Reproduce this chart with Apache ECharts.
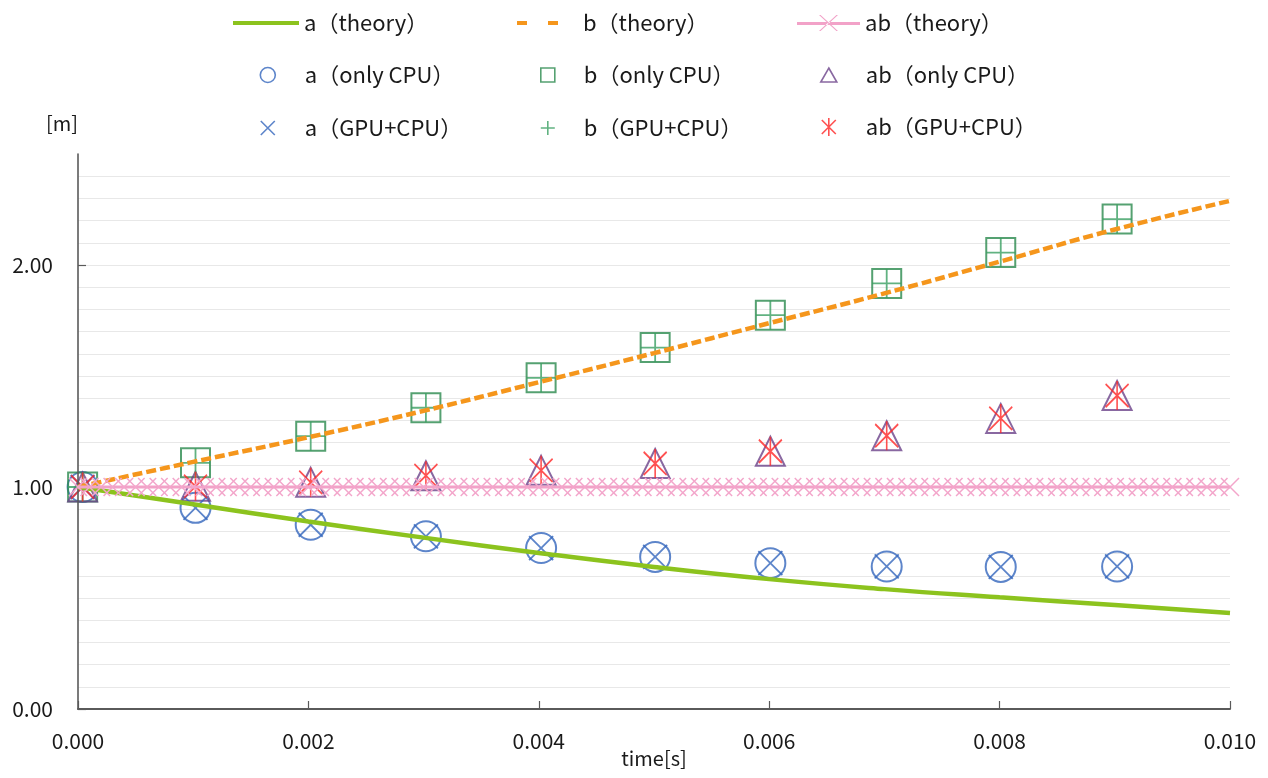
<!DOCTYPE html>
<html>
<head>
<meta charset="utf-8">
<title>a / b / ab</title>
<script src="https://cdn.jsdelivr.net/npm/echarts@6/dist/echarts.min.js"></script>
<style>
  html, body { margin: 0; padding: 0; background: #fff; }
  #chart { width: 1268px; height: 778px; }
</style>
</head>
<body>
<div id="chart"></div>
<script>
// 理論曲線 (0.001 s 刻み)
const theoryTime = [0, 0.001, 0.002, 0.003, 0.004, 0.005, 0.006, 0.007, 0.008, 0.009, 0.010];
const aTheory = [1.000, 0.922, 0.845, 0.772, 0.703, 0.640, 0.585, 0.540, 0.503, 0.468, 0.432];
const bTheory = [1.000, 1.113, 1.224, 1.343, 1.472, 1.603, 1.738, 1.872, 2.015, 2.160, 2.289];

// ab 理論値 (0.0001 s 刻み)
const abTheoryStep = 0.0001;
const abTheory = [
  1, 1, 1, 1, 1, 1, 1, 1, 1, 1,
  1, 1, 1, 1, 1, 1, 1, 1, 1, 1,
  1, 1, 1, 1, 1, 1, 1, 1, 1, 1,
  1, 1, 1, 1, 1, 1, 1, 1, 1, 1,
  1, 1, 1, 1, 1, 1, 1, 1, 1, 1,
  1, 1, 1, 1, 1, 1, 1, 1, 1, 1,
  1, 1, 1, 1, 1, 1, 1, 1, 1, 1,
  1, 1, 1, 1, 1, 1, 1, 1, 1, 1,
  1, 1, 1, 1, 1, 1, 1, 1, 1, 1,
  1, 1, 1, 1, 1, 1, 1, 1, 1, 1,
  1
];

// 計測点
const sampleTime = [0.00004, 0.00102, 0.00202, 0.00302, 0.00402, 0.00501, 0.00601, 0.00702, 0.00801, 0.00902];
const aCpu  = [1.000, 0.906, 0.830, 0.778, 0.725, 0.685, 0.657, 0.642, 0.640, 0.642];
const bCpu  = [1.000, 1.109, 1.229, 1.357, 1.492, 1.628, 1.774, 1.917, 2.056, 2.207];
const abCpu = [1.000, 1.003, 1.021, 1.051, 1.075, 1.106, 1.161, 1.231, 1.309, 1.412];
const aGpu  = [1.000, 0.906, 0.830, 0.778, 0.725, 0.685, 0.657, 0.642, 0.640, 0.642];
const bGpu  = [1.000, 1.109, 1.229, 1.357, 1.492, 1.628, 1.774, 1.917, 2.056, 2.207];
const abGpu = [1.000, 1.003, 1.021, 1.051, 1.075, 1.106, 1.161, 1.231, 1.309, 1.412];

const yLabelValues = [0, 1, 2];

const FONT = 'Noto Sans CJK JP';
const TEXT = '#1a1a1a';
const AXIS = '#5a5a5a';
const NONE = 'rgba(0,0,0,0)';

const C = {
  aLine: '#8cc31e', bLine: '#f5961c', abLine: '#f2a2c8', abMark: '#f3a6cb',
  blue: '#3566bd', green: '#2a8a4e', green2: '#3a9f62', purple: '#6b4289', red: '#ff2626'
};

// stroke-only marker shapes
const SYM_X = 'path://M0,0L10,10M10,0L0,10';
const SYM_PLUS = 'path://M5,0L5,10M0,5L10,5';
const SYM_STAR = 'path://M0,2L16,18M16,2L0,18M8,0L8,20';

const pairs = (xs, ys) => ys.map((v, i) => [xs[i], v]);

function scatter(name, ys, symbol, size, color, width) {
  return {
    name, type: 'scatter',
    data: pairs(sampleTime, ys),
    symbol, symbolSize: size,
    itemStyle: { color: NONE, borderColor: color, borderWidth: width },
    emphasis: { disabled: true }
  };
}

// one legend box per entry so the three columns line up like the original.
// left is the icon's left edge, textLeft where the label should start.
function legendItem(name, left, top, icon, w, h, itemStyle, textLeft) {
  return {
    data: [{ name, icon, itemStyle }],
    left, top, padding: 0,
    itemWidth: w, itemHeight: h,
    selectedMode: false,
    textStyle: {
      fontFamily: FONT, fontSize: 22, color: TEXT,
      padding: [0, 0, 0, Math.max(0, textLeft - (left + w + 5))]
    }
  };
}

const stroke = (color, width) => ({ color: NONE, borderColor: color, borderWidth: width });

const legends = [
  legendItem('a（theory）', 233, 12, 'rect', 66, 4, { color: C.aLine, borderWidth: 0 }, 303),
  legendItem('b（theory）', 517, 12, 'path://M0,0h10v4h-10z M31,0h10v4h-10z', 41, 4, { color: C.bLine, borderWidth: 0 }, 583),
  legendItem('ab（theory）', 797, 12,
    'path://M0,7.5H63V10.5H0Z M22,0.5L23.6,0.5L41,16.5L39.4,16.5Z M41,0.5L39.4,0.5L22,16.5L23.6,16.5Z',
    63, 16, { color: C.abLine, borderWidth: 0 }, 865),
  legendItem('a（only CPU）', 259.5, 64, 'circle', 15, 15, stroke(C.blue, 1.6), 304),
  legendItem('b（only CPU）', 540, 64, 'path://M0,0h14v14h-14z', 14, 14, stroke(C.green, 1.6), 583),
  legendItem('ab（only CPU）', 820, 64, 'path://M8,0L16,14L0,14Z', 16, 14, stroke(C.purple, 1.6), 865),
  legendItem('a（GPU+CPU）', 260, 117, SYM_X, 14, 14, stroke(C.blue, 1.6), 304),
  legendItem('b（GPU+CPU）', 540, 117, SYM_PLUS, 14, 14, stroke(C.green2, 1.6), 583),
  legendItem('ab（GPU+CPU）', 821, 116, 'path://M0,2L14,16M14,2L0,16M7,0L7,18', 14, 18, stroke(C.red, 1.6), 865)
];

const yBase = { type: 'value', min: 0, max: 2.5, interval: 0.1 };

const option = {
  backgroundColor: '#fff',
  animation: false,
  legend: legends,
  grid: { left: 78, right: 38, top: 154, bottom: 69, outerBoundsMode: 'none', containLabel: false },
  xAxis: {
    type: 'value',
    min: 0, max: 0.01, interval: 0.002,
    name: 'time[s]', nameLocation: 'middle', nameGap: 39, nameMoveOverlap: false,
    nameTextStyle: { fontFamily: FONT, fontSize: 20, color: TEXT },
    axisLine: { lineStyle: { color: AXIS, width: 2 } },
    axisTick: { inside: true, length: 8, lineStyle: { color: AXIS, width: 1.2 } },
    axisLabel: {
      fontFamily: FONT, fontSize: 21, color: TEXT, margin: 22,
      formatter: (v) => v.toFixed(3)
    },
    splitLine: { show: false }
  },
  yAxis: [
    {
      ...yBase,
      name: '[m]', nameLocation: 'end', nameGap: 21,
      nameTextStyle: { fontFamily: FONT, fontSize: 20, color: TEXT, align: 'right' },
      axisLine: { show: true, lineStyle: { color: AXIS, width: 1.6 } },
      axisTick: { show: true, inside: true, length: 8, customValues: yLabelValues, lineStyle: { color: AXIS, width: 1.2 } },
      axisLabel: {
        fontFamily: FONT, fontSize: 21, color: TEXT, margin: 25,
        customValues: yLabelValues,
        formatter: (v) => (Math.abs(v - Math.round(v)) < 1e-6 ? v.toFixed(2) : '')
      },
      splitLine: { show: false },
      z: 3
    },
    {
      // grid lines every 0.1
      ...yBase,
      axisLine: { show: false }, axisTick: { show: false }, axisLabel: { show: false },
      splitLine: { show: true, showMaxLine: false, lineStyle: { color: '#e8e8e8', width: 1.2 } },
      z: 0
    }
  ],
  series: [
    {
      name: 'a（theory）', type: 'line', smooth: true, showSymbol: false,
      data: pairs(theoryTime, aTheory),
      lineStyle: { color: C.aLine, width: 4.5 }, itemStyle: { color: C.aLine }
    },
    {
      name: 'b（theory）', type: 'line', smooth: true, showSymbol: false,
      data: pairs(theoryTime, bTheory),
      lineStyle: { color: C.bLine, width: 4.5, type: [10, 4] }, itemStyle: { color: C.bLine }
    },
    {
      name: 'ab（theory）', type: 'line', showSymbol: true,
      data: abTheory.map((v, i) => [i * abTheoryStep, v]),
      symbol: SYM_X, symbolSize: 18,
      lineStyle: { color: C.abLine, width: 3 },
      itemStyle: { color: NONE, borderColor: C.abMark, borderWidth: 1.5 },
      emphasis: { disabled: true }
    },
    scatter('a（only CPU）', aCpu, 'circle', 30, C.blue, 2),
    scatter('b（only CPU）', bCpu, 'rect', 29, C.green, 2),
    scatter('ab（only CPU）', abCpu, 'triangle', 29, C.purple, 2),
    scatter('a（GPU+CPU）', aGpu, SYM_X, 24, C.blue, 1.8),
    scatter('b（GPU+CPU）', bGpu, SYM_PLUS, 29, C.green2, 1.8),
    scatter('ab（GPU+CPU）', abGpu, SYM_STAR, [23, 29], C.red, 1.8)
  ]
};

const chart = echarts.init(document.getElementById('chart'));
chart.setOption(option);
</script>
</body>
</html>
